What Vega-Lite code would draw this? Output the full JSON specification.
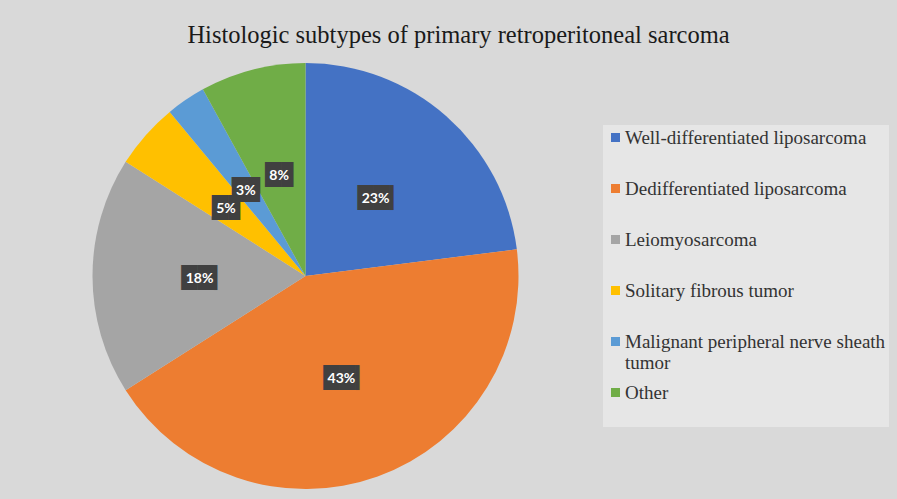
{
  "$schema": "https://vega.github.io/schema/vega-lite/v6.json",
  "width": 611,
  "height": 426,
  "padding": {"left": 0, "top": 22, "right": 60, "bottom": 60},
  "background": "#d9d9d9",
  "title": {
    "text": "Histologic subtypes of primary retroperitoneal sarcoma",
    "font": "Liberation Serif",
    "fontSize": 24.5,
    "fontWeight": "normal",
    "color": "#1a1a1a",
    "anchor": "middle",
    "baseline": "alphabetic",
    "dx": 153,
    "offset": -4
  },
  "data": {
    "values": [
      {"subtype": "Well-differentiated liposarcoma", "share": 0.23, "rank": 1},
      {"subtype": "Dedifferentiated liposarcoma", "share": 0.43, "rank": 2},
      {"subtype": "Leiomyosarcoma", "share": 0.18, "rank": 3},
      {"subtype": "Solitary fibrous tumor", "share": 0.05, "rank": 4},
      {"subtype": "Malignant peripheral nerve sheath tumor", "share": 0.03, "rank": 5},
      {"subtype": "Other", "share": 0.08, "rank": 6}
    ]
  },
  "encoding": {
    "theta": {"field": "share", "type": "quantitative", "stack": true},
    "order": {"field": "rank", "type": "quantitative"},
    "detail": {"field": "subtype", "type": "nominal"}
  },
  "layer": [
    {
      "mark": {"type": "arc", "outerRadius": 213},
      "encoding": {
        "color": {
          "field": "subtype",
          "type": "nominal",
          "scale": {
            "domain": ["Well-differentiated liposarcoma", "Dedifferentiated liposarcoma", "Leiomyosarcoma", "Solitary fibrous tumor", "Malignant peripheral nerve sheath tumor", "Other"],
            "range": ["#4472C4", "#ED7D31", "#A5A5A5", "#FFC000", "#5B9BD5", "#70AD47"]
          },
          "legend": {
            "orient": "none",
            "legendX": 603,
            "legendY": 62,
            "title": null,
            "fillColor": "#e6e6e6",
            "padding": 3,
            "labelFont": "Liberation Serif",
            "labelFontSize": 19,
            "labelColor": "#333333",
            "labelOffset": 0,
            "symbolType": "square",
            "symbolSize": 81,
            "symbolStrokeWidth": 0,
            "rowPadding": 10,
            "labelLimit": 400,
            "labelExpr": "datum.label == 'Malignant peripheral nerve sheath tumor' ? ['Malignant peripheral nerve sheath', 'tumor'] : [datum.label, ' ']"
          }
        }
      }
    },
    {
      "mark": {"type": "text", "radius": 106, "font": "DejaVu Sans", "fontSize": 21, "color": "#404040", "baseline": "middle", "dx": 6, "dy": 3},
      "encoding": {"text": {"condition": {"test": "datum.share >= 0.1", "value": "██▎"}, "value": ""}}
    },
    {
      "mark": {"type": "text", "radius": 106, "font": "DejaVu Sans", "fontSize": 21, "color": "#404040", "baseline": "middle", "dx": 2, "dy": 3},
      "encoding": {"text": {"condition": {"test": "datum.share < 0.1", "value": "█▊"}, "value": ""}}
    },
    {
      "mark": {"type": "text", "radius": 106, "font": "Lato", "fontWeight": "bold", "fontSize": 14, "color": "white", "baseline": "middle", "dy": 3},
      "encoding": {
        "text": {"field": "share", "type": "quantitative", "format": ".0%"}
      }
    }
  ],
  "config": {"view": {"stroke": null}}
}
